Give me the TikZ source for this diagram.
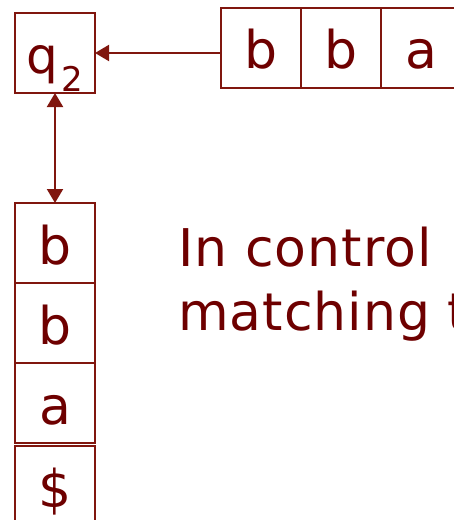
\documentclass[tikz,border=0pt]{standalone}
\usepackage{fontspec}
\setmainfont{DejaVu Sans}
\newfontfamily\notefont{DejaVu Sans}[LetterSpace=2]
\usetikzlibrary{positioning,arrows.meta}

\definecolor{linered}{RGB}{128,22,14}
\definecolor{textred}{RGB}{110,0,0}

\tikzset{
    cell/.style = { draw = linered, line width = 2pt, minimum size = 80pt, inner sep = 0pt, outer sep = 0pt,
                    text height = 42pt, text depth = 0pt, text = textred, font = \fontsize{52}{60}\selectfont },
    link/.style = { draw = linered, line width = 2pt, -{Triangle[length=14pt,width=16pt]} }
}

\begin{document}
\begin{tikzpicture}[x=1pt, y=-1pt, node distance=0pt]
        \useasboundingbox ( 0, 0 ) rectangle ( 454, 520 );
        \clip ( 0, 0 ) rectangle ( 454, 520 );

        % состояние
        \node [ cell, text height=44pt, text depth=4pt, font=\fontsize{50}{56}\selectfont ] (q2) at ( 55, 53 )
            {q\hspace{3pt}\raisebox{-18pt}{\fontsize{34}{40}\selectfont 2}};

        % лента
        \node [ cell, text height=40pt ] (t1) at ( 261, 48 ) {b};
        \node [ cell, text height=40pt, right = of t1 ] (t2) {b};
        \node [ cell, text height=40pt, right = of t2 ] (t3) {a};

        % стек
        \node [cell] (s1) at ( 55, 243 ) {b};
        \node [ cell, below = of s1 ] (s2) {b};
        \node [ cell, below = of s2 ] (s3) {a};
        \node [ cell, below = 3pt of s3 ] (s4) {\$};

        % стрелки
        \draw [link] (t1.west|-q2.east) -- (q2.east);
        \draw [ link, {Triangle[length=14pt,width=16pt]}-{Triangle[length=14pt,width=16pt]} ] (q2.south) -- (s1.north);

        % текст
        \node [ text = textred, font = \notefont\fontsize{52}{64}\selectfont, align = left, anchor = base west, inner sep = 0pt ] (note)
            at ( 178, 330 ) {In control\\matching t};
\end{tikzpicture}
\end{document}
